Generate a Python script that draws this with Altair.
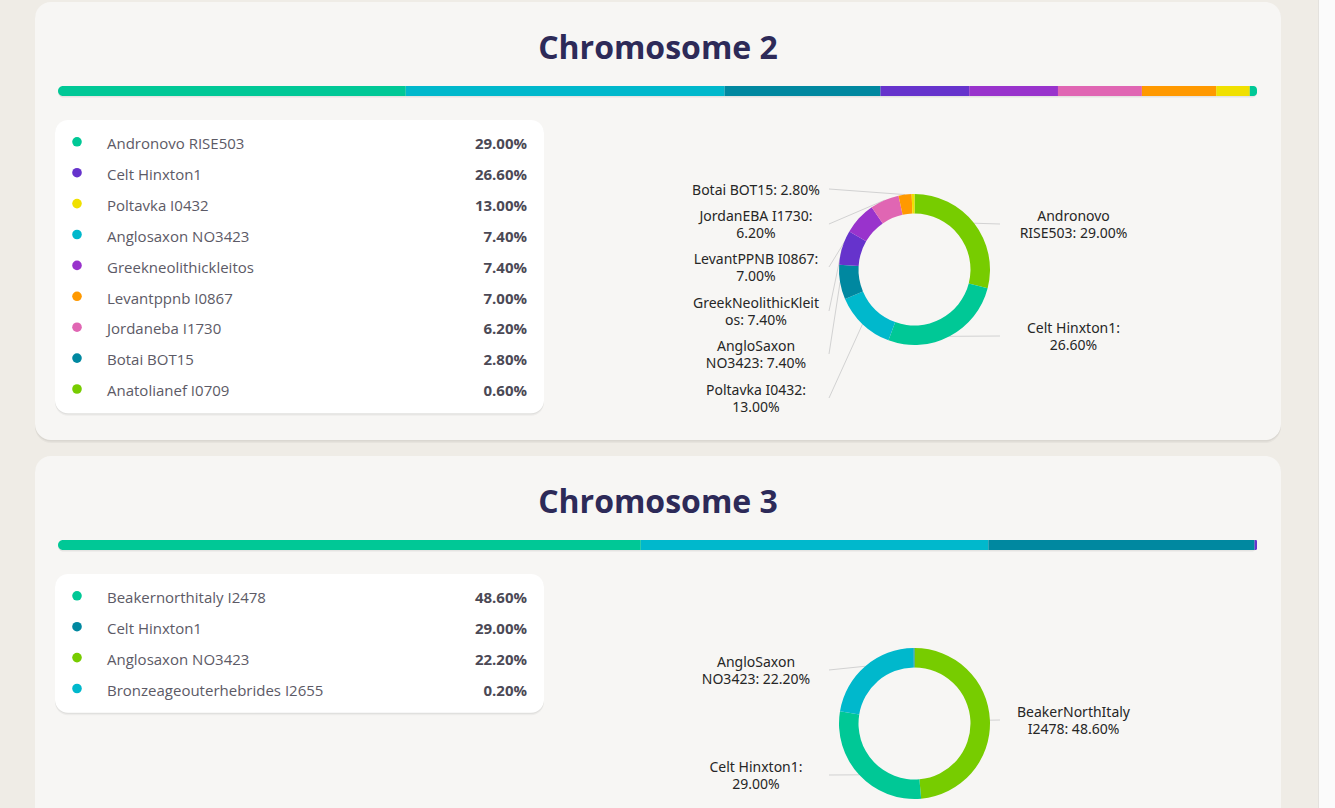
import altair as alt
import pandas as pd

# ---------------- data ----------------
titles = ["Chromosome 2", "Chromosome 3"]

chr2_sources = ["Andronovo RISE503", "Celt Hinxton1", "Poltavka I0432", "Anglosaxon NO3423",
                "Greekneolithickleitos", "Levantppnb I0867", "Jordaneba I1730", "Botai BOT15",
                "Anatolianef I0709"]
chr2_slice_names = ["Andronovo\nRISE503", "Celt Hinxton1", "Poltavka I0432", "AngloSaxon\nNO3423",
                    "GreekNeolithicKleit\nos", "LevantPPNB I0867", "JordanEBA I1730", "Botai BOT15",
                    "AnatoliaNeolithic I0709"]
chr2_values = [29.0, 26.6, 13.0, 7.4, 7.4, 7.0, 6.2, 2.8, 0.6]

chr3_sources = ["Beakernorthitaly I2478", "Celt Hinxton1", "Anglosaxon NO3423",
                "Bronzeageouterhebrides I2655"]
chr3_slice_names = ["BeakerNorthItaly\nI2478", "Celt Hinxton1", "AngloSaxon\nNO3423",
                    "BronzeAgeOuterHebrides I2655"]
chr3_values = [48.6, 29.0, 22.2, 0.2]

# ---------------- style ----------------
PAGE_BG = "#efece6"
CARD_BG = "#f7f6f4"
PANEL_BG = "#ffffff"
TITLE_COLOR = "#2d2a58"
NAME_COLOR = "#5c5a66"
VALUE_COLOR = "#4b4955"
LABEL_COLOR = "#262626"
LEADER_COLOR = "#d2d2d2"

GREEN, CYAN, TEAL = "#00c896", "#00b8cc", "#0088a0"
PURPLE, VIOLET, PINK = "#6633cc", "#9933cc", "#e066b3"
ORANGE, YELLOW, LIME = "#ff9900", "#f0e000", "#77cc00"

BAR_PALETTE = [GREEN, CYAN, TEAL, PURPLE, VIOLET, PINK, ORANGE, YELLOW]
DONUT_PALETTE = [LIME, GREEN, CYAN, TEAL, PURPLE, VIOLET, PINK, ORANGE, YELLOW]

chr2_dot_colors = [GREEN, PURPLE, YELLOW, CYAN, VIOLET, ORANGE, PINK, TEAL, LIME]
chr3_dot_colors = [GREEN, TEAL, LIME, CYAN]

# label placement around each donut (offset from centre, None = no label)
chr2_label_dy = [-45.5, 66.5, 128.5, 84.5, 41.5, -2.5, -45.5, -80.5, None]
chr2_label_wrap = [False, True, True, False, False, True, True, False, False]
chr3_label_dy = [-3.5, 51.5, -53.5, None]
chr3_label_wrap = [False, True, False, False]

# ---------------- layout ----------------
W, H = 1335, 808
CARD_X0, CARD_X1 = 35, 1281
BAR_X0, BAR_X1 = 58, 1257
PANEL_X0, PANEL_X1 = 55, 544
ROW_STEP = 30.9
DONUT_CX = 914.5
R_OUT, R_IN = 75.5, 56
LABEL_LINE_H = 16.5
card_tops = [2, 456]
card_bottoms = [440, 960]

SANS = "Open Sans"
LABEL_FONT = "Noto Sans"


def rect_layer(x0, x1, y0, y1, fill, radius=0, opacity=1.0):
    return alt.Chart(pd.DataFrame({"k": [0]})).mark_rect(
        fill=fill, cornerRadius=radius, opacity=opacity
    ).encode(x=alt.value(x0), x2=alt.value(x1), y=alt.value(y0), y2=alt.value(y1))


def card_layers(top, bottom, title, sources, slices, values, dots, label_dy, label_wrap):
    n = len(values)
    total = sum(values)
    labels = [f"{s}:{chr(10) if w else ' '}{v:.2f}%" for s, v, w in zip(slices, values, label_wrap)]
    df = pd.DataFrame({
        "idx": list(range(n)),
        "source": sources,
        "value": values,
        "label": labels,
        "nlines": [lb.count("\n") + 1 for lb in labels],
        "label_dy": label_dy,
    })
    base = alt.Chart(df)
    layers = []

    # card background with soft shadow
    layers.append(rect_layer(CARD_X0, CARD_X1, top + 1, bottom + 3, "#000000", 16, 0.035))
    layers.append(rect_layer(CARD_X0, CARD_X1, top + 1, bottom + 1.5, "#000000", 16, 0.05))
    layers.append(rect_layer(CARD_X0, CARD_X1, top, bottom, CARD_BG, 16))

    # title
    layers.append(
        alt.Chart(pd.DataFrame({"title": [title]})).mark_text(
            font=SANS, fontSize=32, fontWeight="bold", color=TITLE_COLOR,
            align="center", baseline="alphabetic"
        ).encode(text="title:N", x=alt.value((CARD_X0 + CARD_X1) / 2), y=alt.value(top + 56.5))
    )

    # stacked composition bar
    bar_y0, bar_y1 = top + 84, top + 94
    layers.append(rect_layer(BAR_X0, BAR_X1, bar_y0 + 1, bar_y1 + 1.5, "#000000", 5, 0.07))
    bar_colors = [BAR_PALETTE[i % len(BAR_PALETTE)] for i in range(n)]
    bar_base = base.transform_window(
        cum="sum(value)", sort=[alt.SortField("idx")], frame=[None, 0]
    ).transform_calculate(start="datum.cum - datum.value")
    bar_enc = dict(
        x=alt.X("start:Q", scale=alt.Scale(domain=[0, total], range=[BAR_X0, BAR_X1], nice=False, zero=False), axis=None),
        x2="cum:Q",
        y=alt.value(bar_y0),
        y2=alt.value(bar_y1),
        color=alt.Color("idx:O", scale=alt.Scale(domain=list(range(n)), range=bar_colors), legend=None),
    )
    layers.append(bar_base.transform_filter(f"datum.idx > 0 && datum.idx < {n - 1}").mark_rect().encode(**bar_enc))
    layers.append(bar_base.transform_filter("datum.idx == 0").mark_rect(
        cornerRadiusTopLeft=5, cornerRadiusBottomLeft=5).encode(**bar_enc))
    layers.append(bar_base.transform_filter(f"datum.idx == {n - 1}").mark_rect(
        cornerRadiusTopRight=5, cornerRadiusBottomRight=5).encode(**bar_enc))

    # list panel
    row0 = top + 142
    row_last = row0 + (n - 1) * ROW_STEP
    p_top, p_bot = top + 118, row_last + 22
    layers.append(rect_layer(PANEL_X0, PANEL_X1, p_top + 1, p_bot + 2.5, "#000000", 13, 0.04))
    layers.append(rect_layer(PANEL_X0, PANEL_X1, p_top + 0.5, p_bot + 1.2, "#000000", 13, 0.05))
    layers.append(rect_layer(PANEL_X0, PANEL_X1, p_top, p_bot, PANEL_BG, 13))

    row_y = alt.Y("source:N", sort=None, axis=None,
                  scale=alt.Scale(type="point", domain=sources, range=[row0, row_last], padding=0))
    layers.append(base.mark_circle(size=92, opacity=1, yOffset=-2.2).encode(
        x=alt.value(77), y=row_y,
        color=alt.Color("source:N", scale=alt.Scale(domain=sources, range=dots), legend=None),
    ))
    layers.append(base.mark_text(font=SANS, fontSize=15, color=NAME_COLOR, align="left",
                                 baseline="middle").encode(x=alt.value(107), y=row_y, text="source:N"))
    layers.append(base.transform_calculate(pct="format(datum.value, '.2f') + '%'").mark_text(
        font=SANS, fontSize=15, fontWeight="bold", color=VALUE_COLOR, align="right", baseline="middle"
    ).encode(x=alt.value(527), y=row_y, text="pct:N"))

    # donut with leader lines and labels
    cx, cy = DONUT_CX, top + 267.5
    lab = base.transform_window(
        cum="sum(value)", sort=[alt.SortField("idx")], frame=[None, 0]
    ).transform_joinaggregate(total="sum(value)").transform_filter(
        "isValid(datum.label_dy)"
    ).transform_calculate(
        mid="2 * PI * (datum.cum - datum.value / 2) / datum.total"
    ).transform_calculate(
        side="datum.mid < PI ? 1 : -1",
        sx=f"{cx} + {R_OUT} * sin(datum.mid)",
        sy=f"{cy} - {R_OUT} * cos(datum.mid)",
        ly=f"{cy} + datum.label_dy",
    ).transform_calculate(
        ex=f"{cx} + datum.side * 85.5",
        lx=f"{cx} + (datum.side > 0 ? 159 : -158.5)",
        ty=f"datum.ly + 1.5 - (datum.nlines - 1) * {LABEL_LINE_H} / 2",
    )
    layers.append(lab.mark_rule(color=LEADER_COLOR, strokeWidth=1).encode(
        x=alt.X("sx:Q", scale=None), y=alt.Y("sy:Q", scale=None),
        x2="ex:Q", y2="ly:Q",
    ))
    layers.append(lab.mark_text(font=LABEL_FONT, fontSize=14, color=LABEL_COLOR, align="center",
                                baseline="middle", lineBreak="\n", lineHeight=LABEL_LINE_H).encode(
        x=alt.X("lx:Q", scale=None), y=alt.Y("ty:Q", scale=None), text="label:N",
    ))
    layers.append(base.mark_arc(radius=R_OUT, radius2=R_IN).encode(
        theta=alt.Theta("value:Q", stack=True, scale=alt.Scale(domain=[0, total])),
        order=alt.Order("idx:Q"),
        color=alt.Color("idx:O", scale=alt.Scale(domain=list(range(n)), range=DONUT_PALETTE[:n]), legend=None),
        x=alt.value(cx), y=alt.value(cy),
    ))
    return layers


all_layers = []
all_layers += card_layers(card_tops[0], card_bottoms[0], titles[0], chr2_sources, chr2_slice_names,
                          chr2_values, chr2_dot_colors, chr2_label_dy, chr2_label_wrap)
all_layers += card_layers(card_tops[1], card_bottoms[1], titles[1], chr3_sources, chr3_slice_names,
                          chr3_values, chr3_dot_colors, chr3_label_dy, chr3_label_wrap)

# scrollbar track on the right edge of the page
all_layers.append(rect_layer(1318, W, 0, H, "#fbfbfb"))
all_layers.append(rect_layer(1318, 1319, 0, H, "#e4e2de"))

chart = alt.layer(*all_layers).resolve_scale(
    x="independent", y="independent", color="independent", theta="independent"
).properties(
    width=W, height=H, background=PAGE_BG, padding=0,
    autosize=alt.AutoSizeParams(type="none"),
).configure_view(stroke=None)

chart.save("out.html", embed_options={"renderer": "svg", "actions": False})
